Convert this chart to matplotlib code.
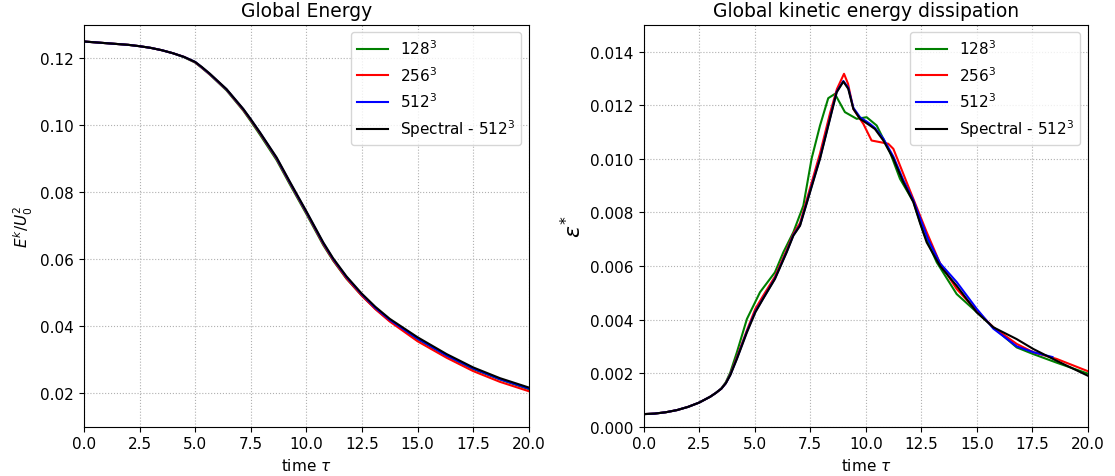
import numpy as np
import matplotlib
matplotlib.use("Agg")
import matplotlib.pyplot as plt

# ---- global energy E^k / U0^2 ----
t_en = [0, 1, 2, 2.5, 3.0, 3.5, 4.0, 4.5, 5.0, 5.3, 5.66, 6.41, 7.16, 7.49, 7.91, 8.66, 9.26, 10.0, 10.76,
        11.2, 11.8, 12.48, 13.1, 13.75, 15.0, 16.3, 17.5, 18.7, 20]
en_spec = [0.125, 0.1245, 0.124, 0.1236, 0.1231, 0.1224, 0.1215, 0.1204, 0.1189, 0.1174, 0.1154, 0.1108,
           0.1049, 0.1019, 0.0979, 0.0904, 0.0831, 0.0743, 0.0650, 0.0603, 0.0549, 0.0498, 0.0458,
           0.0422, 0.0367, 0.0317, 0.0277, 0.0245, 0.0217]
en_128 = [0.125, 0.1245, 0.124, 0.1236, 0.1231, 0.1224, 0.1215, 0.1203, 0.1187, 0.1171, 0.1151, 0.1104,
          0.1044, 0.1013, 0.0972, 0.0896, 0.0823, 0.0735, 0.0642, 0.0596, 0.0542, 0.0492, 0.0452,
          0.0416, 0.0361, 0.0312, 0.0272, 0.0241, 0.0212]
en_256 = [0.125, 0.1245, 0.124, 0.1236, 0.1231, 0.1224, 0.1215, 0.1204, 0.1188, 0.1172, 0.1152, 0.1106,
          0.1046, 0.1016, 0.0976, 0.0900, 0.0827, 0.0739, 0.0645, 0.0598, 0.0543, 0.0492, 0.0451,
          0.0414, 0.0355, 0.0306, 0.0266, 0.0234, 0.0206]
en_512 = [0.125, 0.1245, 0.124, 0.1236, 0.1231, 0.1224, 0.1215, 0.1204, 0.1189, 0.1173, 0.1153, 0.1107,
          0.1048, 0.1018, 0.0978, 0.0902, 0.0829, 0.0741, 0.0648, 0.0601, 0.0547, 0.0496, 0.0455,
          0.0419, 0.0363, 0.0313, 0.0274, 0.0242, 0.0214]

# ---- kinetic energy dissipation eps* ----
t_ds_spec = [0, 0.5, 1.0, 1.5, 2.0, 2.5, 3.0, 3.25, 3.5, 3.7, 3.9, 4.2, 4.65, 5.03, 5.39, 5.91, 6.44,
             6.74, 7.04, 7.49, 7.94, 8.39, 8.69, 8.99, 9.21, 9.44, 9.74, 10.19, 10.41, 10.79, 11.24,
             11.69, 12.14, 12.44, 12.74, 13.34, 14.09, 14.99, 15.74, 16.79, 17.54, 18.59, 20]
ds_spec = [0.00047, 0.00049, 0.00054, 0.00062, 0.00074, 0.0009, 0.00112, 0.00126, 0.00142, 0.00162,
           0.00192, 0.00253, 0.00352, 0.00427, 0.00479, 0.00551, 0.00651, 0.00713, 0.0075, 0.00875,
           0.0100, 0.01149, 0.01248, 0.01288, 0.01261, 0.01186, 0.01149, 0.01124, 0.01111, 0.01068,
           0.0100, 0.00912, 0.00838, 0.00760, 0.00688, 0.0060, 0.00526, 0.00427, 0.00371, 0.00327,
           0.0029, 0.00246, 0.0019]

t_ds_128 = [0, 0.5, 1.0, 1.5, 2.0, 2.5, 3.0, 3.25, 3.5, 3.7, 3.9, 4.2, 4.65, 5.24, 5.91, 6.29, 6.74,
            7.19, 7.56, 7.94, 8.31, 8.61, 9.06, 9.59, 10.04, 10.49, 11.09, 11.54, 12.14, 12.59, 13.19,
            14.09, 15.0, 15.74, 16.79, 17.54, 18.59, 20]
ds_128 = [0.00047, 0.00049, 0.00054, 0.00062, 0.00074, 0.0009, 0.00112, 0.00126, 0.00143, 0.00166,
          0.00202, 0.00278, 0.00402, 0.00502, 0.00576, 0.00651, 0.00726, 0.00825, 0.0100, 0.01124,
          0.01226, 0.01242, 0.01174, 0.01149, 0.01155, 0.01124, 0.01024, 0.00925, 0.0084, 0.00726,
          0.00614, 0.00495, 0.00427, 0.00371, 0.00296, 0.00271, 0.00239, 0.00198]

t_ds_256 = [0, 0.5, 1.0, 1.5, 2.0, 2.5, 3.0, 3.25, 3.5, 3.7, 3.9, 4.2, 4.65, 5.03, 5.39, 5.91, 6.44,
            6.74, 7.04, 7.49, 7.94, 8.39, 8.7, 9.02, 9.2, 9.44, 9.89, 10.26, 10.64, 11.01, 11.24, 11.84,
            12.44, 12.74, 13.34, 14.09, 14.99, 15.74, 16.79, 17.54, 18.59, 20]
ds_256 = [0.00047, 0.00049, 0.00054, 0.00062, 0.00074, 0.0009, 0.00112, 0.00126, 0.00142, 0.00163,
          0.00195, 0.0026, 0.0036, 0.0044, 0.0049, 0.0056, 0.0066, 0.0072, 0.0076, 0.0089, 0.0102,
          0.0117, 0.0126, 0.01317, 0.0128, 0.01186, 0.0113, 0.01068, 0.01062, 0.01056, 0.01037,
          0.00912, 0.00788, 0.00726, 0.0061, 0.00514, 0.00433, 0.00371, 0.00309, 0.00278, 0.00253,
          0.00207]

t_ds_512 = [0, 0.5, 1.0, 1.5, 2.0, 2.5, 3.0, 3.25, 3.5, 3.7, 3.9, 4.2, 4.65, 5.03, 5.39, 5.91, 6.44,
            6.74, 7.04, 7.49, 7.94, 8.39, 8.69, 8.99, 9.21, 9.44, 9.74, 10.19, 10.41, 10.79, 11.24,
            11.69, 12.14, 12.8, 13.34, 14.09, 14.99, 15.74, 16.79, 17.54, 18.4]
ds_512 = [0.00047, 0.00049, 0.00054, 0.00062, 0.00074, 0.0009, 0.00112, 0.00126, 0.00142, 0.00162,
          0.00193, 0.00255, 0.00355, 0.0043, 0.0048, 0.00553, 0.00653, 0.00715, 0.00752, 0.00878,
          0.01003, 0.01152, 0.0125, 0.0129, 0.01265, 0.0119, 0.01155, 0.0113, 0.01115, 0.01075,
          0.01008, 0.0092, 0.00845, 0.0070, 0.0061, 0.0054, 0.0044, 0.00366, 0.0030, 0.00278, 0.0026]

labels = ['$128^3$', '$256^3$', '$512^3$', 'Spectral - $512^3$']
colors = ['green', 'red', 'blue', 'black']

plt.rcParams['font.size'] = 11
fig = plt.figure(figsize=(11.15, 4.77), dpi=100)
ax1 = fig.add_axes([0.0753, 0.1033, 0.399, 0.8427])
ax2 = fig.add_axes([0.5772, 0.1033, 0.3986, 0.8427])

en = [en_128, en_256, en_512, en_spec]
for e, c, lab in zip(en, colors, labels):
    ax1.plot(t_en, e, color=c, lw=1.5, label=lab)
ax1.set_xlim(0, 20)
ax1.set_ylim(0.01, 0.13)
ax1.set_title('Global Energy', fontsize=13.5)
ax1.set_xlabel(r'time $\tau$')
ax1.set_ylabel(r'$E^k/U_0^2$')
ax1.grid(True, linestyle=':', color='#b0b0b0')
ax1.legend(loc='upper right', fontsize=11)

ds = [(t_ds_128, ds_128), (t_ds_256, ds_256), (t_ds_512, ds_512), (t_ds_spec, ds_spec)]
for (t, d), c, lab in zip(ds, colors, labels):
    ax2.plot(t, d, color=c, lw=1.5, label=lab)
ax2.set_xlim(0, 20)
ax2.set_ylim(0, 0.015)
ax2.set_title('Global kinetic energy dissipation', fontsize=13.5)
ax2.set_xlabel(r'time $\tau$')
ax2.set_ylabel(r'$\varepsilon^{*}$', fontsize=16)
ax2.grid(True, linestyle=':', color='#b0b0b0')
ax2.legend(loc='upper right', fontsize=11)

fig.savefig('out.png', dpi=100)
